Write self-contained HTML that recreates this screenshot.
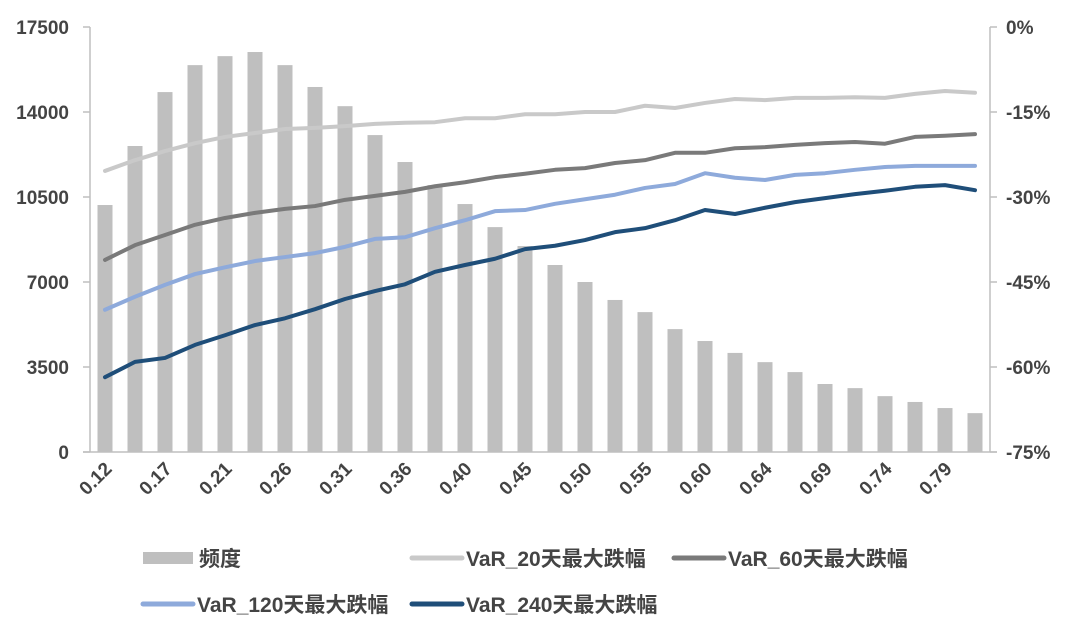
<!DOCTYPE html>
<html><head><meta charset="utf-8"><style>
body{margin:0;background:#fff;}
svg text{font-family:"Liberation Sans","Noto Sans CJK SC",sans-serif;font-weight:bold;fill:#444;}
</style></head><body>
<svg width="1077" height="624" viewBox="0 0 1077 624" id="chart"></svg>
<script>
const categories=["0.12","0.14","0.17","0.19","0.21","0.24","0.26","0.28","0.31","0.33","0.36","0.38","0.40","0.43","0.45","0.47","0.50","0.52","0.55","0.57","0.60","0.62","0.64","0.67","0.69","0.71","0.74","0.76","0.79","0.81"];
const freq=[10170,12600,14820,15930,16300,16470,15930,15030,14240,13050,11940,10990,10210,9260,8480,7700,7000,6260,5760,5060,4570,4080,3700,3290,2800,2630,2300,2060,1810,1600];
const var20=[-25.4,-23.5,-21.9,-20.5,-19.4,-18.7,-18.0,-17.8,-17.5,-17.1,-16.9,-16.8,-16.1,-16.1,-15.4,-15.4,-15.0,-15.0,-13.9,-14.3,-13.4,-12.7,-12.9,-12.5,-12.5,-12.4,-12.5,-11.8,-11.3,-11.6];
const var60=[-41.1,-38.5,-36.7,-34.9,-33.7,-32.8,-32.1,-31.6,-30.5,-29.8,-29.1,-28.1,-27.4,-26.5,-25.9,-25.2,-24.9,-24.0,-23.5,-22.2,-22.2,-21.4,-21.2,-20.8,-20.5,-20.3,-20.6,-19.4,-19.2,-18.9];
const var120=[-49.9,-47.6,-45.5,-43.6,-42.4,-41.3,-40.6,-39.9,-38.8,-37.4,-37.1,-35.5,-34.1,-32.5,-32.3,-31.2,-30.4,-29.6,-28.4,-27.7,-25.8,-26.6,-27.0,-26.1,-25.8,-25.2,-24.7,-24.5,-24.5,-24.5];
const var240=[-61.8,-59.1,-58.4,-56.1,-54.4,-52.6,-51.4,-49.8,-48.0,-46.6,-45.4,-43.2,-42.0,-40.9,-39.2,-38.6,-37.6,-36.2,-35.5,-34.1,-32.3,-33.0,-31.9,-30.9,-30.2,-29.5,-28.9,-28.2,-27.9,-28.8];
const leftTicks=[0,3500,7000,10500,14000,17500];
const rightTicks=[0,-15,-30,-45,-60,-75];

const NS="http://www.w3.org/2000/svg";
const svg=document.getElementById('chart');
const L=90,R=990,T=27,B=452;
const step=(R-L)/categories.length;
const xc=i=>L+step*(i+0.5);
const yl=v=>B-(v/17500)*(B-T);
const yr=v=>T+(-v/75)*(B-T);
function mk(tag,attrs,parent){const e=document.createElementNS(NS,tag);for(const k in attrs)e.setAttribute(k,attrs[k]);(parent||svg).appendChild(e);return e;}

const axes=mk('g',{});


mk('line',{x1:L,y1:T,x2:L,y2:B,stroke:'#bfbfbf','stroke-width':1.5},axes);
mk('line',{x1:R,y1:T,x2:R,y2:B,stroke:'#bfbfbf','stroke-width':1.5},axes);
mk('line',{x1:L-7,y1:B,x2:R+7,y2:B,stroke:'#bfbfbf','stroke-width':1.5},axes);

leftTicks.forEach(v=>{
  const t=mk('text',{x:69,y:yl(v)+7,'text-anchor':'end','font-size':19},axes);
  
  
  t.textContent=v;
  mk('line',{x1:L-7,y1:yl(v),x2:L,y2:yl(v),stroke:'#bfbfbf','stroke-width':1.5},axes);
});
rightTicks.forEach(v=>{
  const t=mk('text',{x:1006,y:yr(v)+7,'text-anchor':'start','font-size':19},axes);
  
  
  t.textContent=v+'%';
  mk('line',{x1:R,y1:yr(v),x2:R+7,y2:yr(v),stroke:'#bfbfbf','stroke-width':1.5},axes);
});
categories.forEach((c,i)=>{
  if(i%2!==0)return;
  const x=xc(i)+8,y=B+18;
  const t=mk('text',{x:x,y:y,'text-anchor':'end','font-size':19,transform:`rotate(-45 ${x} ${y})`},axes);
  
  
  t.textContent=c;
});

const bars=mk('g',{});


freq.forEach((v,i)=>{
  const r=mk('rect',{x:xc(i)-7.5,y:yl(v),width:15,height:B-yl(v),fill:'#bfbfbf'},bars);
  
  
});

function line(data,color,name){
  const p=mk('polyline',{points:data.map((v,i)=>xc(i)+','+yr(v)).join(' '),fill:'none',stroke:color,'stroke-width':4,'stroke-linejoin':'round','stroke-linecap':'round'});
  
  
}
line(var20,'#c9c9c9','var20-line');
line(var60,'#7a7a7a','var60-line');
line(var120,'#8eaadb','var120-line');
line(var240,'#1f4e79','var240-line');

const leg=mk('g',{});


const entries=[
  {x:143,y:558,type:'bar',c:'#bfbfbf',t:'频度'},
  {x:410,y:558,type:'line',c:'#c9c9c9',t:'VaR_20天最大跌幅'},
  {x:672,y:558,type:'line',c:'#7a7a7a',t:'VaR_60天最大跌幅'},
  {x:141,y:604,type:'line',c:'#8eaadb',t:'VaR_120天最大跌幅'},
  {x:410,y:604,type:'line',c:'#1f4e79',t:'VaR_240天最大跌幅'}
];
entries.forEach(e=>{
  const g=mk('g',{},leg);
  
  
  if(e.type==='bar')mk('rect',{x:e.x,y:e.y-6,width:50,height:12,fill:e.c},g);
  else mk('line',{x1:e.x+2,y1:e.y,x2:e.x+52,y2:e.y,stroke:e.c,'stroke-width':5,'stroke-linecap':'round'},g);
  const t=mk('text',{x:e.x+56,y:e.y+8,'font-size':21},g);
  t.textContent=e.t;
});
</script>
</body></html>
